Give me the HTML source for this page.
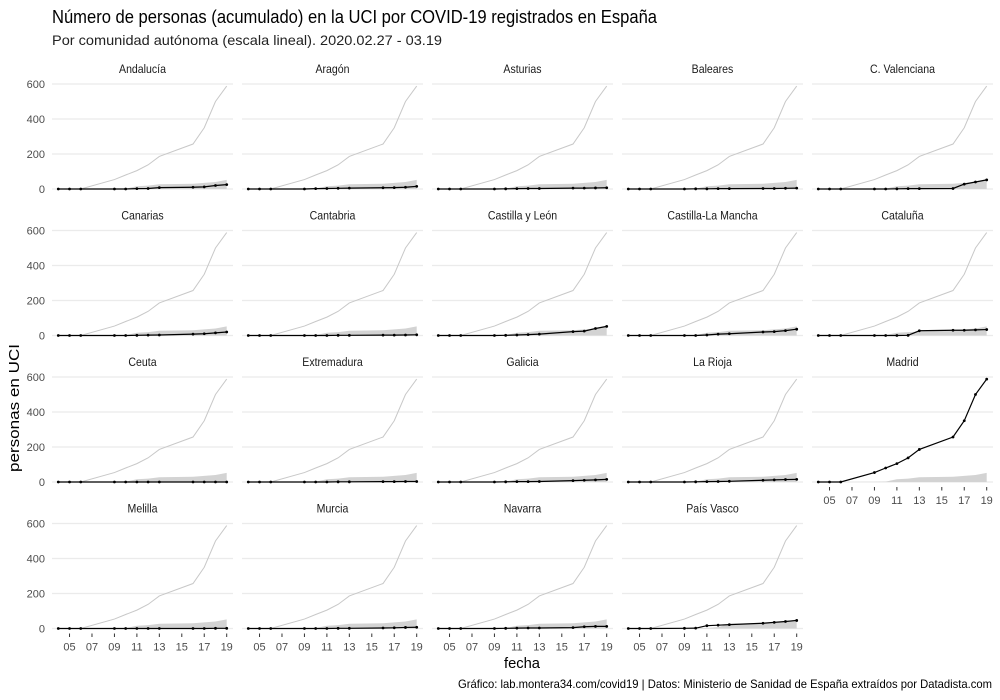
<!DOCTYPE html>
<html><head><meta charset="utf-8"><style>
html,body{margin:0;padding:0;background:#fff;}
svg{display:block;font-family:"Liberation Sans Narrow","Liberation Sans",sans-serif;}
</style></head><body>
<svg id="chart" width="1000" height="700" viewBox="0 0 1000 700">
<text x="52" y="23" font-size="18" fill="#000" textLength="605" lengthAdjust="spacingAndGlyphs">Número de personas (acumulado) en la UCI por COVID-19 registrados en España</text>
<text x="52" y="45" font-size="14" fill="#222" textLength="390" lengthAdjust="spacingAndGlyphs">Por comunidad autónoma (escala lineal). 2020.02.27 - 03.19</text>
<text transform="translate(19,408) rotate(-90)" text-anchor="middle" font-size="15" fill="#000" textLength="128" lengthAdjust="spacingAndGlyphs">personas en UCI</text>
<text x="522" y="668" text-anchor="middle" font-size="15" fill="#000" textLength="36" lengthAdjust="spacingAndGlyphs">fecha</text>
<text x="992" y="688" text-anchor="end" font-size="12" fill="#000" textLength="534" lengthAdjust="spacingAndGlyphs">Gráfico: lab.montera34.com/covid19 | Datos: Ministerio de Sanidad de España extraídos por Datadista.com</text>
<g id="panels"></g>
</svg>
<script>
const dates = [4,5,6,9,10,11,12,13,16,17,18,19];
const regions = ["Andalucía","Aragón","Asturias","Baleares","C. Valenciana","Canarias","Cantabria","Castilla y León","Castilla-La Mancha","Cataluña","Ceuta","Extremadura","Galicia","La Rioja","Madrid","Melilla","Murcia","Navarra","País Vasco"];
const andalucia = [0,0,0,0,0,2,3,8,10,12,20,25];
const aragon = [0,0,0,0,2,3,4,5,7,8,10,15];
const asturias = [0,0,0,0,1,2,3,3,5,5,6,7];
const baleares = [0,0,0,0,1,1,2,2,3,3,4,5];
const cvalenciana = [0,0,0,0,0,1,2,2,3,28,40,52];
const canarias = [0,0,0,0,0,1,2,3,8,10,15,20];
const cantabria = [0,0,0,0,0,0,1,1,2,2,3,4];
const castillaleon = [0,0,0,0,1,3,5,8,22,25,40,52];
const castillamancha = [0,0,0,0,0,3,8,10,20,22,28,36];
const cataluna = [0,0,0,0,0,0,1,27,30,30,32,34];
const ceuta = [0,0,0,0,0,0,0,0,0,0,0,0];
const extremadura = [0,0,0,0,0,0,1,1,2,2,3,3];
const galicia = [0,0,0,0,1,2,2,3,8,10,12,15];
const larioja = [0,0,0,0,1,2,3,4,10,12,14,15];
const madrid = [0,0,0,54,80,105,138,186,257,350,500,588];
const melilla = [0,0,0,0,0,0,0,0,0,0,1,1];
const murcia = [0,0,0,0,0,0,1,1,3,4,6,7];
const navarra = [0,0,0,0,1,2,3,3,5,10,12,12];
const paisvasco = [0,0,0,1,2,16,19,22,30,35,40,46];
const series = [andalucia,aragon,asturias,baleares,cvalenciana,canarias,cantabria,castillaleon,castillamancha,cataluna,ceuta,extremadura,galicia,larioja,madrid,melilla,murcia,navarra,paisvasco];
const yTicks = [0,200,400,600];
const xTicks = [5,7,9,11,13,15,17,19];
const xTickLabels = ["05","07","09","11","13","15","17","19"];

const NS="http://www.w3.org/2000/svg";
const root=document.getElementById('panels');
function mk(tag,attrs,parent){const e=document.createElementNS(NS,tag);for(const k in attrs)e.setAttribute(k,attrs[k]);parent.appendChild(e);return e;}
const PW=181, PX0=52, PSTEP=190;
const baselines=[189,335.5,482,628.5];
const yPer=105/600;
const xMin=4,xMax=19;
const madridIdx=regions.indexOf("Madrid");
regions.forEach((name,i)=>{
  const col=i%5,row=Math.floor(i/5);
  const left=PX0+col*PSTEP, base=baselines[row];
  const xs=d=>left+6.3+(d-xMin)/(xMax-xMin)*(PW-12.6);
  const ys=v=>base-v*yPer;
  const g=mk('g',{},root);
  
  
  const t=mk('text',{x:left+PW/2,y:base-116,'text-anchor':'middle','font-size':12,fill:'#1a1a1a',transform:'translate('+(left+PW/2)+',0) scale(0.88,1) translate('+(-(left+PW/2))+',0)'},g);
  t.textContent=name;
  
  
  yTicks.forEach(v=>{
    const l=mk('line',{x1:left,x2:left+PW,y1:ys(v),y2:ys(v),stroke:'#ebebeb','stroke-width':1.2},g);
    
    
    if(col===0){
      const tl=mk('text',{x:45,y:ys(v)+4,'text-anchor':'end','font-size':11,fill:'#4d4d4d'},g);
      tl.textContent=v;
      
      
    }
  });
  const maxs=dates.map((d,k)=>{let m=0;series.forEach((s,j)=>{if(j!==i&&j!==madridIdx)m=Math.max(m,s[k]);});return m;});
  let p='M'+xs(dates[0])+','+ys(0);
  dates.forEach((d,k)=>{p+=' L'+xs(d)+','+ys(maxs[k]);});
  p+=' L'+xs(dates[dates.length-1])+','+ys(0)+' Z';
  const band=mk('path',{d:p,fill:'#d3d3d3',stroke:'none'},g);
  
  
  if(i!==madridIdx){
    const mp=mk('polyline',{points:dates.map((d,k)=>xs(d)+','+ys(madrid[k])).join(' '),fill:'none',stroke:'#c8c8c8','stroke-width':1},g);
    
    
  }
  const s=series[i];
  const ln=mk('polyline',{points:dates.map((d,k)=>xs(d)+','+ys(s[k])).join(' '),fill:'none',stroke:'#000','stroke-width':1.2},g);
  
  
  dates.forEach((d,k)=>{
    const c=mk('circle',{cx:xs(d),cy:ys(s[k]),r:1.4,fill:'#000'},g);
    
    
  });
  const isBottom = (row===3) || (row===2 && col===4);
  if(isBottom){
    xTicks.forEach((d,k)=>{
      const tk=mk('line',{x1:xs(d),x2:xs(d),y1:base+5,y2:base+8.5,stroke:'#333','stroke-width':1},g);
      
      
      const tl=mk('text',{x:xs(d),y:base+22,'text-anchor':'middle','font-size':11,fill:'#4d4d4d'},g);
      tl.textContent=xTickLabels[k];
      
      
    });
  }
});
</script>
</body></html>
